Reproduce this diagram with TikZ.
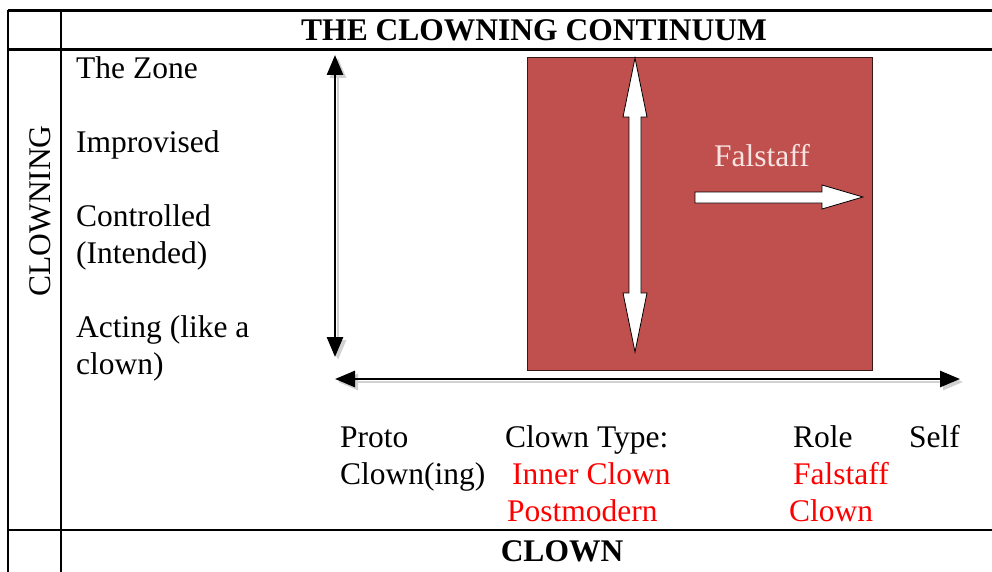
\documentclass[tikz,border=0pt]{standalone}
\usepackage{fontspec}
\setmainfont{Liberation Serif}
\usetikzlibrary{arrows.meta}
\definecolor{boxred}{HTML}{C0504D}
\definecolor{falwhite}{HTML}{F7E4E3}
\definecolor{txtred}{HTML}{FF0000}
\tikzset{
  tline/.style={line width=2.6pt},
  txt/.style={anchor=base west, inner sep=0pt, font=\fontsize{31.5}{37}\selectfont},
  btxt/.style={anchor=base, inner sep=0pt, font=\fontsize{31.5}{37}\selectfont\bfseries},
  axis/.style={line width=2.8pt, {Triangle[width=16pt,length=20pt]}-{Triangle[width=16pt,length=20pt]}},
  axshadow/.style={line width=2.8pt, draw=black!18, {Triangle[width=16pt,length=20pt]}-{Triangle[width=16pt,length=20pt]}},
  blockarrow/.style={fill=white, draw=black, line width=0.8pt, line join=miter}
}
\begin{document}
\begin{tikzpicture}[x=1pt,y=-1pt]
\useasboundingbox (0,0) rectangle (992,572);
% table
\draw[tline] (8,10.5) -- (992,10.5);
\draw[tline] (8,49.5) -- (992,49.5);
\draw[tline] (8,530) -- (992,530);
\draw[tline] (8,10.5) -- (8,572);
\draw[tline] (61,10.5) -- (61,572);
\node[btxt] (title) at (534,41) {THE CLOWNING CONTINUUM};
\node[btxt] (clown) at (562,561) {CLOWN};
\node[inner sep=0pt, rotate=90, font=\fontsize{31.5}{37}\selectfont] (clowning) at (40,211) {CLOWNING};
% left labels
\node[txt] (zone) at (76,79) {The Zone};
\node[txt] (impro) at (76,153) {Improvised};
\node[txt] (ctrl) at (76,226) {Controlled};
\node[txt] (intd) at (76,263) {(Intended)};
\node[txt] (act) at (76,337) {Acting (like a};
\node[txt] (act2) at (76,374) {clown)};
% red box
\draw[fill=boxred, draw=black!70!boxred, line width=0.8pt] (527,57) rectangle (872,370);
% axes
\coordinate (vt) at (335,55);
\coordinate (vb) at (335,357);
\coordinate (hl) at (335,379);
\coordinate (hr) at (960,379);
\draw[axshadow] ([shift={(3,3)}]vt) -- ([shift={(3,3)}]vb);
\draw[axshadow] ([shift={(3,3)}]hl) -- ([shift={(3,3)}]hr);
\draw[axis] (vt) -- (vb);
\draw[axis] (hl) -- (hr);
% white double arrow
\draw[blockarrow] (635,58) -- (647,117) -- (641,117) -- (641,293) -- (647,293) -- (635,352)
  -- (623,293) -- (629,293) -- (629,117) -- (623,117) -- cycle;
% white right arrow
\draw[blockarrow] (695,192) -- (822,192) -- (822,185) -- (863,197) -- (822,209) -- (822,203) -- (695,203) -- cycle;
\node[txt, text=falwhite] (fal) at (714,167) {Falstaff};
% bottom labels
\node[txt] (proto) at (340,447) {Proto};
\node[txt] (protoc) at (340,484) {Clown(ing)};
\node[txt] (ctype) at (505,447) {Clown Type:};
\node[txt, text=txtred] (inner) at (512,484) {Inner Clown};
\node[txt, text=txtred] (postm) at (507,521) {Postmodern};
\node[txt] (role) at (793,447) {Role};
\node[txt] (self) at (909,447) {Self};
\node[txt, text=txtred] (falr) at (793,484) {Falstaff};
\node[txt, text=txtred] (clr) at (789,521) {Clown};
\end{tikzpicture}
\end{document}
